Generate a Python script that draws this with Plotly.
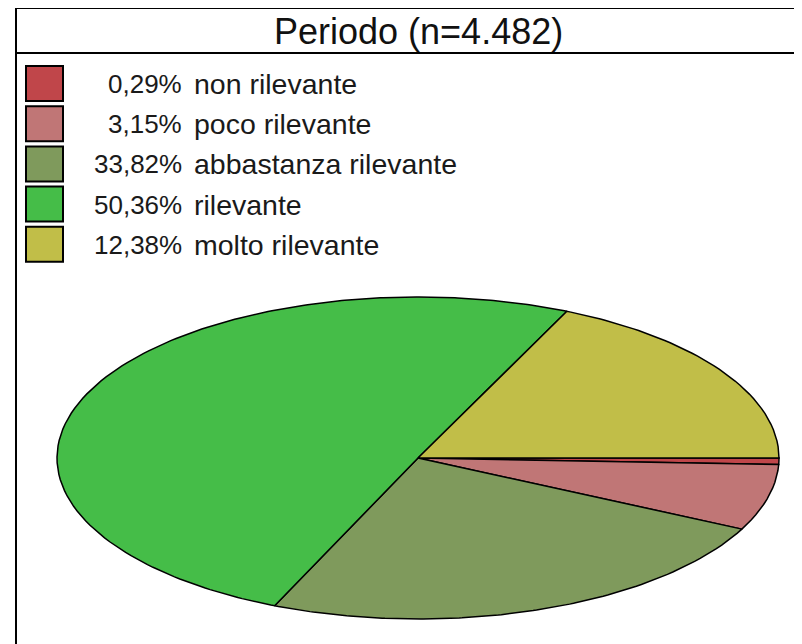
import numpy as np
import plotly.graph_objects as go

# data
labels = ["non rilevante", "poco rilevante", "abbastanza rilevante", "rilevante", "molto rilevante"]
percent = [0.29, 3.15, 33.82, 50.36, 12.38]
colors = ["#C0464A", "#C07676", "#7F9A5C", "#45BD48", "#C1BE48"]
title_text = "Periodo (n=4.482)"

W, H = 802, 644
OFF = 8  # page body margin, so axis units == screen pixels
# ellipse (flattened pie) geometry, in pixels
CX, CY, RX, RY = 418, 458, 361, 161
FONT = "Liberation Sans, Arial, sans-serif"

fig = go.Figure()

# slices go clockwise starting at 3 o'clock
start = 0.0
for lab, p, col in zip(labels, percent, colors):
    span = p / 100 * 2 * np.pi
    n = max(3, int(np.ceil(p * 4)))
    th = np.linspace(start, start + span, n)
    r = RX * RY / np.sqrt((RY * np.cos(th)) ** 2 + (RX * np.sin(th)) ** 2)
    xs = np.concatenate([[CX], CX + r * np.cos(th), [CX]])
    ys = np.concatenate([[CY], CY + r * np.sin(th), [CY]])
    fig.add_trace(go.Scatter(x=xs, y=ys, mode="lines", fill="toself", fillcolor=col,
                             line=dict(color="black", width=1.5), name=lab,
                             showlegend=False, hoverinfo="skip"))
    start += span

# frame + title box
fig.add_shape(type="rect", x0=16, y0=8, x1=W + 20, y1=H + 20,
              line=dict(color="black", width=2))
fig.add_shape(type="line", x0=16, y0=53, x1=W + 20, y1=53,
              line=dict(color="black", width=2))
fig.add_annotation(x=418, y=31, text=title_text, showarrow=False,
                   font=dict(family=FONT, size=36, color="#111111"),
                   xanchor="center", yanchor="middle")

# hand-made legend: swatch, percentage, label
for i, (lab, p, col) in enumerate(zip(labels, percent, colors)):
    y0 = 66 + 40.2 * i
    fig.add_shape(type="rect", x0=26, x1=63, y0=y0, y1=y0 + 35,
                  fillcolor=col, line=dict(color="black", width=2))
    pct = f"{p:.2f}".replace(".", ",") + "%"
    fig.add_annotation(x=184, y=y0 + 18, text=pct, showarrow=False,
                       font=dict(family=FONT, size=26, color="#1a1a1a"),
                       xanchor="right", yanchor="middle")
    fig.add_annotation(x=192, y=y0 + 18, text=lab, showarrow=False,
                       font=dict(family=FONT, size=28.5, color="#1a1a1a"),
                       xanchor="left", yanchor="middle")

fig.update_xaxes(range=[OFF, W + OFF], visible=False, fixedrange=True)
fig.update_yaxes(range=[H + OFF, OFF], visible=False, fixedrange=True)
fig.update_layout(
    width=W, height=H,
    margin=dict(l=0, r=0, t=0, b=0),
    paper_bgcolor="white", plot_bgcolor="white",
    showlegend=False,
)

fig.write_html("out.html")
